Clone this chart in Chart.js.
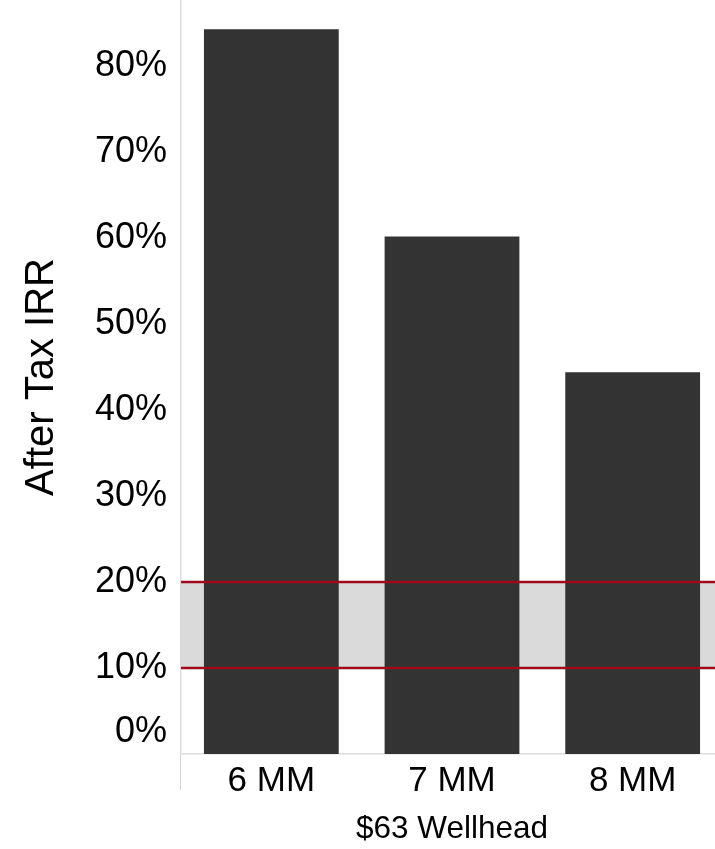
<!DOCTYPE html>
<html>
<head>
<meta charset="utf-8">
<script src="https://cdn.jsdelivr.net/npm/chart.js@4.4.1/dist/chart.umd.min.js"></script>
<style>
  html, body { margin: 0; padding: 0; background: #fff; overflow: hidden; }
</style>
</head>
<body>
<canvas id="irrChart" width="723" height="849"></canvas>
<script>
    var categories = ['6 MM', '7 MM', '8 MM'];
    var irrValues = [0.843, 0.602, 0.444];
    var hurdleBand = [0.10, 0.20];
    var yTitle = 'After Tax IRR';
    var xTitle = '$63 Wellhead';

    var fontFamily = "'Liberation Sans', Arial, sans-serif";

    // grey hurdle band behind the bars, red limit lines on top of them
    var hurdlePlugin = {
        id: 'hurdle',
        beforeDatasetsDraw: function (chart) {
            var ctx = chart.ctx;
            var area = chart.chartArea;
            var yScale = chart.scales.y;
            var top = yScale.getPixelForValue(hurdleBand[1]);
            var bottom = yScale.getPixelForValue(hurdleBand[0]);
            ctx.save();
            ctx.fillStyle = '#dadada';
            ctx.fillRect(area.left, top, area.right - area.left, bottom - top);
            ctx.restore();
        },
        afterDatasetsDraw: function (chart) {
            var ctx = chart.ctx;
            var area = chart.chartArea;
            var yScale = chart.scales.y;
            ctx.save();
            ctx.strokeStyle = '#9e0a1c';
            ctx.lineWidth = 2.5;
            hurdleBand.forEach(function (v) {
                var py = yScale.getPixelForValue(v);
                ctx.beginPath();
                ctx.moveTo(area.left, py);
                ctx.lineTo(area.right, py);
                ctx.stroke();
            });
            ctx.restore();
        }
    };

    new Chart(document.getElementById('irrChart'), {
        type: 'bar',
        data: {
            labels: categories,
            datasets: [{
                data: irrValues,
                backgroundColor: '#333333',
                borderWidth: 0,
                barPercentage: 0.746,
                categoryPercentage: 1
            }]
        },
        options: {
            responsive: false,
            animation: false,
            layout: { padding: 0 },
            plugins: { legend: { display: false }, tooltip: { enabled: false } },
            scales: {
                x: {
                    grid: {
                        drawOnChartArea: false,
                        drawTicks: true,
                        tickLength: 36,
                        color: function (c) { return c.index === 0 ? '#d6d6d6' : 'rgba(0,0,0,0)'; }
                    },
                    border: { display: true, color: '#dcdcdc', width: 1.5 },
                    ticks: {
                        padding: -30,
                        color: '#000',
                        font: { family: fontFamily, size: 35 }
                    },
                    title: {
                        display: true,
                        text: xTitle,
                        color: '#000',
                        font: { family: fontFamily, size: 31.5 },
                        padding: { top: 0, bottom: 1 }
                    },
                    afterFit: function (scale) { scale.height = 95; }
                },
                y: {
                    min: 0,
                    max: 0.877,
                    grid: { display: false, drawTicks: false },
                    border: { display: true, color: '#dcdcdc', width: 1.5 },
                    ticks: {
                        stepSize: 0.1,
                        includeBounds: false,
                        padding: 14,
                        color: '#000',
                        font: { family: fontFamily, size: 36 },
                        callback: function (v) {
                            var label = Math.round(v * 100) + '%';
                            return v === 0 ? [label, ''] : label;
                        }
                    },
                    title: {
                        display: true,
                        text: yTitle,
                        color: '#000',
                        font: { family: fontFamily, size: 40 },
                        padding: { top: 18, bottom: 0 }
                    },
                    afterFit: function (scale) {
                        scale.width = 181;
                        scale.paddingTop = 0;
                        scale.paddingBottom = 0;
                    }
                }
            }
        },
        plugins: [hurdlePlugin]
    });
</script>
</body>
</html>
